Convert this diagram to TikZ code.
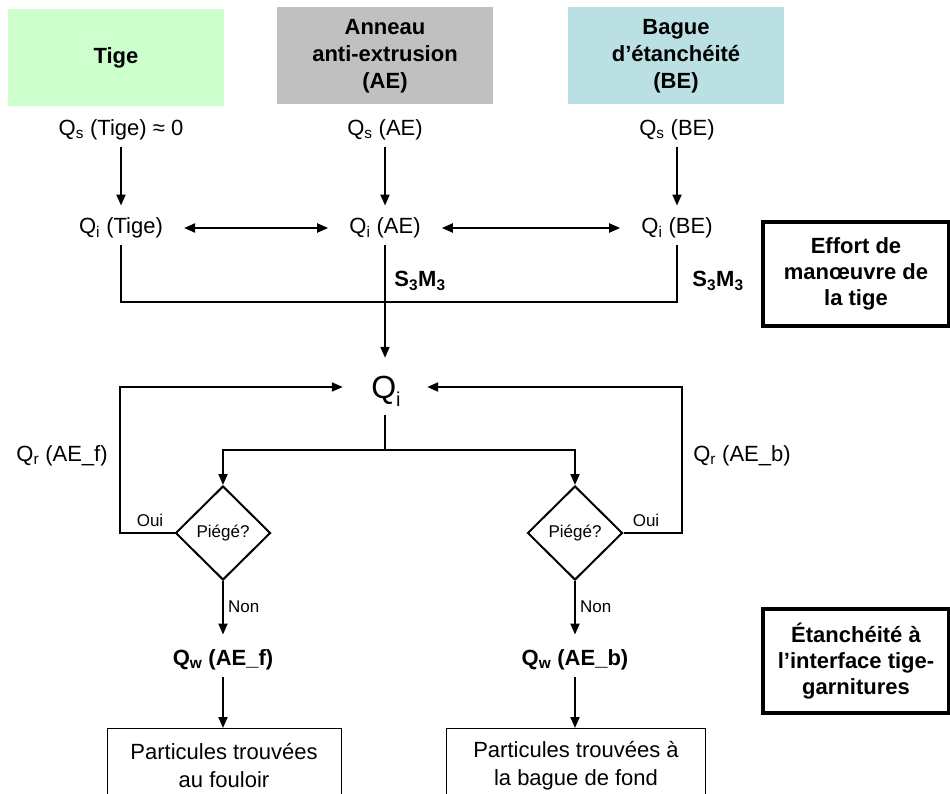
\documentclass[tikz,border=0pt]{standalone}
\usepackage{fontspec}
\setmainfont{Liberation Sans}
\usetikzlibrary{shapes.geometric,arrows.meta}
\definecolor{tigeg}{RGB}{204,255,204}
\definecolor{aeg}{RGB}{192,192,192}
\definecolor{beb}{RGB}{187,224,227}
\begin{document}
\begin{tikzpicture}[x=1pt,y=-1pt,
 every node/.style={font=\fontsize{22}{27}\selectfont, inner sep=7pt},
 hdr/.style={minimum width=216pt, minimum height=97pt, align=center, font=\bfseries\fontsize{22}{27}\selectfont},
 bld/.style={font=\bfseries\fontsize{22}{27}\selectfont},
 ln/.style={line width=2pt},
 arr/.style={line width=2pt, -{Triangle[length=11pt,width=9pt]}},
 darr/.style={line width=2pt, {Triangle[length=11pt,width=9pt]}-{Triangle[length=11pt,width=9pt]}, shorten <=14pt, shorten >=14pt},
 dia/.style={draw, diamond, line width=2pt, minimum width=95pt, minimum height=94pt, inner sep=0pt, font=\fontsize{17}{20}\selectfont},
 small/.style={font=\fontsize{17}{20}\selectfont, inner sep=2pt},
 thickbox/.style={draw, line width=4pt, minimum width=186pt, minimum height=104pt, align=center, font=\bfseries\fontsize{22}{26}\selectfont},
 pbox/.style={draw, line width=0.9pt, minimum width=234pt, minimum height=90pt, anchor=north},
 ptext/.style={align=center, font=\fontsize{22}{28}\selectfont}
]
\useasboundingbox (0,0) rectangle (950,794);
\clip (0,0) rectangle (950,794);

% headers
\node[hdr, fill=tigeg] (tige) at (116,58) {Tige};
\node[hdr, fill=aeg] (ae) at (385,56) {Anneau\\anti-extrusion\\(AE)};
\node[hdr, fill=beb] (be) at (676,56) {Bague\\d’étanchéité\\(BE)};

% Qs row
\node (qst) at (121,130) {Q\textsubscript{s} (Tige) ≈ 0};
\node (qsa) at (385,130) {Q\textsubscript{s} (AE)};
\node (qsb) at (677,130) {Q\textsubscript{s} (BE)};

% Qi row
\node (qit) at (121,228) {Q\textsubscript{i} (Tige)};
\node (qia) at (385,228) {Q\textsubscript{i} (AE)};
\node (qib) at (677,228) {Q\textsubscript{i} (BE)};

\draw[arr, shorten >=5pt] (qst) -- (qit);
\draw[arr, shorten >=5pt] (qsa) -- (qia);
\draw[arr, shorten >=5pt] (qsb) -- (qib);
\draw[darr] (qit) -- (qia);
\draw[darr] (qia) -- (qib);

\node[bld] (s1) at (420,281) {S\textsubscript{3}M\textsubscript{3}};
\node[bld] (s2) at (718,281) {S\textsubscript{3}M\textsubscript{3}};

\coordinate (hj) at (385,302);
\draw[ln] (qit.south) |- (hj) -| (qib.south);

% big Qi
\node[minimum width=84pt, minimum height=58pt, inner sep=0pt] (qbig) at (385,387) {};
\node[font=\fontsize{32}{36}\selectfont, inner sep=0pt, anchor=base] (qbigt) at (386,398) {Q\raisebox{-0.28em}{\fontsize{20}{20}\selectfont i}};
\draw[arr] (qia.south) -- (qbig.north);

% diamonds
\node[dia] (dl) at (223,533) {Piégé?};
\node[dia] (dr) at (575,533) {Piégé?};

\coordinate (sp) at (385,450);
\draw[ln, shorten <=-1pt] (qbig.south) -- (sp);
\draw[arr] (sp) -| (dl.north);
\draw[arr] (sp) -| (dr.north);

\draw[arr] (dl.west) -- ++(-55,0) |- (qbig.west);
\draw[arr] (dr.east) -- ++(58,0) |- (qbig.east);

\node (qrf) at (62,456) {Q\textsubscript{r} (AE\_f)};
\node (qrb) at (742,456) {Q\textsubscript{r} (AE\_b)};
\node[small] (ouil) at (150,520) {Oui};
\node[small] (ouir) at (646,520) {Oui};

% Qw
\node[bld] (qwf) at (223,660) {Q\textsubscript{w} (AE\_f)};
\node[bld] (qwb) at (575,660) {Q\textsubscript{w} (AE\_b)};
\draw[arr, shorten >=8pt] (dl.south) -- (qwf.north);
\draw[arr, shorten >=8pt] (dr.south) -- (qwb.north);
\node[small, anchor=west] (nonl) at (226,607) {Non};
\node[small, anchor=west] (nonr) at (578,607) {Non};

% bottom boxes
\node[pbox] (bf) at (224,728) {};
\node[pbox, minimum width=259pt] (bb) at (576,728) {};
\node[ptext] (bft) at (224,766) {Particules trouvées\\au fouloir};
\node[ptext] (bbt) at (576,766) {Particules trouvées à\\la bague de fond};
\draw[arr] (qwf.south) -- (qwf.south |- bf.north);
\draw[arr] (qwb.south) -- (qwb.south |- bb.north);

% right boxes
\node[thickbox] (eff) at (856,274) {Effort de\\manœuvre de\\la tige};
\node[thickbox] (eta) at (856,661) {Étanchéité à\\l’interface tige-\\garnitures};
\end{tikzpicture}
\end{document}
